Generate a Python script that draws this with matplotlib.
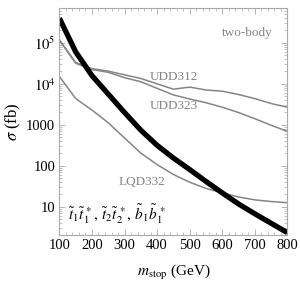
import numpy as np
import matplotlib
matplotlib.use("Agg")
import matplotlib.pyplot as plt
from matplotlib.ticker import FixedLocator, MultipleLocator, LogLocator, NullFormatter

plt.rcParams['font.family'] = 'Liberation Serif'
plt.rcParams['mathtext.fontset'] = 'stix'

# stop mass (GeV)
m_stop = [100, 150, 200, 250, 300, 350, 400, 450, 500, 550, 600, 650, 700, 750, 800]

# log10 of cross sections (fb)
two_body = [5.60, 4.78, 4.20, 3.75, 3.30, 2.87, 2.50, 2.19, 1.91, 1.62, 1.34, 1.07, 0.83, 0.60, 0.37]
udd312 = [5.07, 4.52, 4.37, 4.31, 4.22, 4.13, 4.00, 3.87, 3.92, 3.85, 3.82, 3.74, 3.64, 3.52, 3.43]
udd323 = [5.07, 4.50, 4.35, 4.28, 4.15, 4.05, 3.89, 3.73, 3.63, 3.54, 3.43, 3.30, 3.15, 2.99, 2.84]
lqd332 = [4.18, 3.64, 3.36, 3.05, 2.68, 2.31, 2.03, 1.79, 1.60, 1.45, 1.34, 1.24, 1.17, 1.13, 1.10]

yticks = [10, 100, 1000, 1e4, 1e5]
ylabels = ['10', '100', '1000', r'$10^4$', r'$10^5$']
xticks = [100, 200, 300, 400, 500, 600, 700, 800]

grey = '#858585'

fig = plt.figure(figsize=(3.0, 2.83), dpi=100)
ax = fig.add_axes([0.198, 0.170, 0.760, 0.802])

ax.plot(m_stop, 10**np.array(udd312), color=grey, lw=1.1)
ax.plot(m_stop, 10**np.array(udd323), color=grey, lw=1.1)
ax.plot(m_stop, 10**np.array(lqd332), color=grey, lw=1.1)
ax.plot(m_stop, 10**np.array(two_body), color='black', lw=3.8, solid_capstyle='butt')

ax.set_yscale('log')
ax.set_xlim(100, 800)
ax.set_ylim(2.07, 7.1e5)

ax.xaxis.set_major_locator(FixedLocator(xticks))
ax.xaxis.set_minor_locator(MultipleLocator(20))
ax.set_xticklabels([str(t) for t in xticks])
ax.yaxis.set_major_locator(FixedLocator(yticks))
ax.yaxis.set_minor_locator(LogLocator(base=10, subs=np.arange(2, 10)))
ax.yaxis.set_minor_formatter(NullFormatter())
ax.set_yticklabels(ylabels)

ax.tick_params(which='both', direction='in', top=True, right=True, color='#aaaaaa', labelsize=10.5, pad=3)
ax.tick_params(which='major', length=4, width=0.6)
ax.tick_params(which='minor', length=2, width=0.5)
for s in ax.spines.values():
    s.set_color('#aaaaaa')
    s.set_linewidth(0.8)

ax.set_xlabel(r'$m_{\mathrm{stop}}$ (GeV)', fontsize=11, labelpad=8)
ax.set_ylabel(r'$\sigma$ (fb)', fontsize=12, labelpad=2)

ax.text(676, 10**5.24, 'two-body', color=grey, fontsize=9.5, ha='center', va='center')
ax.text(452, 10**4.17, 'UDD312', color=grey, fontsize=9.5, ha='center', va='center')
ax.text(452, 10**3.46, 'UDD323', color=grey, fontsize=9.5, ha='center', va='center')
ax.text(354, 10**1.61, 'LQD332', color=grey, fontsize=9.5, ha='center', va='center')
ax.text(127, 10**0.83,
        r'$\tilde{t}_1\tilde{t}_1^{\,*},\,\tilde{t}_2\tilde{t}_2^{\,*},\,\tilde{b}_1\tilde{b}_1^{\,*}$',
        color='black', fontsize=11, ha='left', va='center')

fig.savefig('out.png', dpi=100)
